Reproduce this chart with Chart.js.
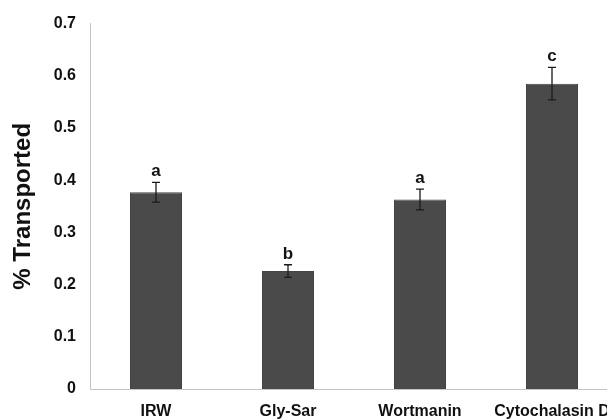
<!DOCTYPE html>
<html>
<head>
<meta charset="utf-8">
<script src="https://cdn.jsdelivr.net/npm/chart.js@4"></script>
<style>
  html, body { margin: 0; padding: 0; background: #fff; overflow: hidden; }
  #wrap { width: 630px; height: 420px; }
</style>
</head>
<body>
<div id="wrap"><canvas id="c" width="630" height="420"></canvas></div>
<script>
// Transport of IRW across the monolayer under different treatments
const treatments = ['IRW', 'Gly-Sar', 'Wortmanin', 'Cytochalasin D'];
const transported = [0.377, 0.226, 0.363, 0.585];
const stdError = [0.019, 0.012, 0.020, 0.031];
const groupLetters = ['a', 'b', 'a', 'c'];
const yTicks = [0, 0.1, 0.2, 0.3, 0.4, 0.5, 0.6, 0.7];

const FONT = "'Liberation Sans', Arial, sans-serif";

// Error bars and significance letters drawn on top of the bars
const errorBarPlugin = {
  id: 'errorBars',
  afterDatasetsDraw(chart) {
    const ctx = chart.ctx;
    const y = chart.scales.y;
    const meta = chart.getDatasetMeta(0);
    ctx.save();
    meta.data.forEach((bar, i) => {
      const v = transported[i], e = stdError[i];
      const yHi = y.getPixelForValue(v + e);
      const yLo = y.getPixelForValue(v - e);
      const x = bar.x;
      ctx.strokeStyle = '#1a1a1a';
      ctx.lineWidth = 1.3;
      ctx.beginPath();
      ctx.moveTo(x, yHi); ctx.lineTo(x, yLo);
      ctx.moveTo(x - 4, yHi); ctx.lineTo(x + 4, yHi);
      ctx.moveTo(x - 4, yLo); ctx.lineTo(x + 4, yLo);
      ctx.stroke();
      ctx.fillStyle = '#111';
      ctx.font = 'bold 17px ' + FONT;
      ctx.textAlign = 'center';
      ctx.textBaseline = 'alphabetic';
      ctx.fillText(groupLetters[i], x, yHi - 6);
    });
    ctx.restore();
  }
};

new Chart(document.getElementById('c'), {
  type: 'bar',
  data: {
    labels: treatments,
    datasets: [{
      data: transported,
      backgroundColor: '#4a4a4a',
      borderColor: '#444444',
      borderWidth: 1,
      barPercentage: 0.394,
      categoryPercentage: 1.0
    }]
  },
  options: {
    responsive: false,
    animation: false,
    devicePixelRatio: 1,
    layout: { padding: { top: 20, right: 12, bottom: 0, left: 0 } },
    plugins: { legend: { display: false }, tooltip: { enabled: false } },
    scales: {
      x: {
        grid: { display: false, drawTicks: false },
        border: { display: true, color: '#c4c4c4', width: 1 },
        ticks: {
          color: '#111',
          font: { family: FONT, size: 16, weight: 'bold' },
          padding: 13,
          maxRotation: 0,
          autoSkip: false
        },
        afterFit(scale) { scale.height = 31; }
      },
      y: {
        min: 0,
        max: 0.7,
        afterBuildTicks(scale) { scale.ticks = yTicks.map(v => ({ value: v })); },
        grid: { display: false, drawTicks: false },
        border: { display: true, color: '#c4c4c4', width: 1 },
        ticks: {
          color: '#111',
          font: { family: FONT, size: 16, weight: 'bold' },
          padding: 14,
          callback: v => (v === 0 ? '0' : v.toFixed(1))
        },
        title: {
          display: true,
          text: '% Transported',
          color: '#111',
          font: { family: FONT, size: 24, weight: 'bold' },
          padding: { top: 9, bottom: 0 }
        },
        afterFit(scale) { scale.width = 90; }
      }
    }
  },
  plugins: [errorBarPlugin]
});
</script>
</body>
</html>
